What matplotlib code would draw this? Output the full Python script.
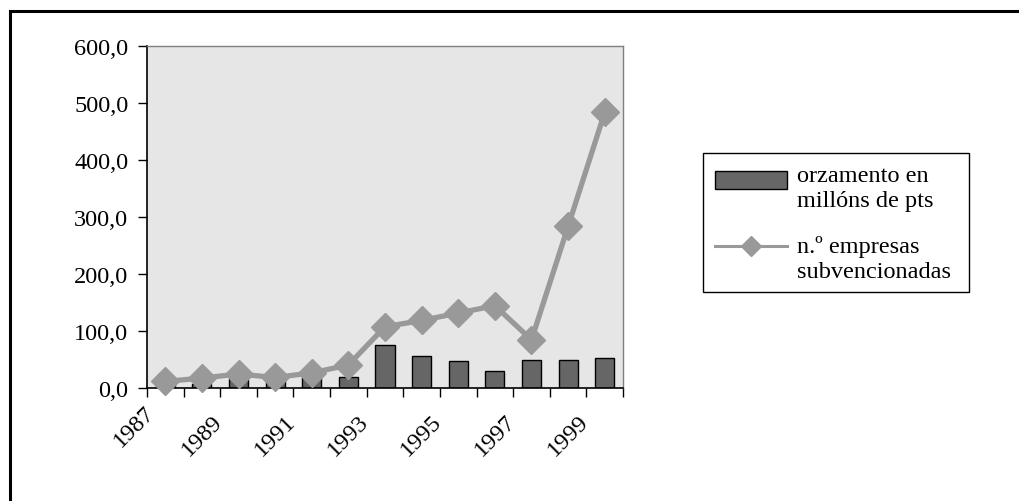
import matplotlib
matplotlib.use('Agg')
import matplotlib.pyplot as plt
import matplotlib.transforms as mtransforms
from matplotlib.lines import Line2D
from matplotlib.patches import Rectangle
import numpy as np

# ---- data ----
years = list(range(1987, 2000))
orzamento = [5, 7, 16, 15, 19, 20, 76, 57, 48, 31, 49, 49, 54]
empresas = [12, 18, 25, 19, 27, 41, 108, 119, 132, 145, 85, 284, 484]
year_labels = [str(y) if (y - 1987) % 2 == 0 else '' for y in years]
yticks = [0, 100, 200, 300, 400, 500, 600]
ytick_labels = ['0,0', '100,0', '200,0', '300,0', '400,0', '500,0', '600,0']
label_bar = 'orzamento en\nmillóns de pts'
label_line = 'n.º empresas\nsubvencionadas'

BAR_COLOR = '#666666'
LINE_COLOR = '#999999'

plt.rcParams['font.family'] = ['Liberation Serif', 'DejaVu Serif']
FS = 17.5

W, H = 1019, 502
fig = plt.figure(figsize=(W / 100, H / 100), dpi=100)
fig.patch.set_facecolor('white')

ax = fig.add_axes([147 / W, 1 - 389.3 / H, (623 - 147) / W, (389.3 - 47.3) / H])
ax.set_facecolor('#e6e6e6')

x = np.arange(len(years))
ax.bar(x, orzamento, width=0.52, color=BAR_COLOR, edgecolor='black',
       linewidth=1, zorder=2)
ax.plot(x, empresas, color=LINE_COLOR, lw=3.8, marker='D', ms=14,
        zorder=3, clip_on=False)

ax.set_xlim(-0.5, len(years) - 0.5)
ax.set_ylim(0, 600)

for s in ['left', 'bottom']:
    ax.spines[s].set_color('black')
    ax.spines[s].set_linewidth(1.2)
for s in ['top', 'right']:
    ax.spines[s].set_color('#808080')
    ax.spines[s].set_linewidth(1.0)

ax.set_yticks(yticks)
ax.set_yticklabels(ytick_labels, fontsize=FS)
ax.tick_params(axis='y', direction='out', length=6.5, width=1, pad=7, color='black')

ax.set_xticks(x)
ax.set_xticklabels(year_labels, fontsize=FS, rotation=45, ha='right',
                   va='top', rotation_mode='anchor')
ax.set_xticks(np.arange(-0.5, len(years), 1.0), minor=True)
ax.tick_params(axis='x', which='major', length=0, pad=16)
ax.tick_params(axis='x', which='minor', direction='out', length=6.5, width=1, color='black')
for i, lab in enumerate(ax.get_xticklabels()):
    dx, dy = (-0.21, 0.09) if i == 0 else (-0.27, 0.0)
    offset = mtransforms.ScaledTranslation(dx, dy, fig.dpi_scale_trans)
    lab.set_transform(lab.get_transform() + offset)

# ---- legend (drawn in figure pixel coordinates) ----
def fx(px):
    return px / W

def fy(py):
    return 1 - py / H

fig.add_artist(Rectangle((fx(703), fy(293)), fx(969) - fx(703), fy(154) - fy(293),
                         transform=fig.transFigure, facecolor='white',
                         edgecolor='black', linewidth=1.0, zorder=5))
fig.add_artist(Rectangle((fx(715), fy(190)), fx(787) - fx(715), fy(172) - fy(190),
                         transform=fig.transFigure, facecolor=BAR_COLOR,
                         edgecolor='black', linewidth=1.0, zorder=6))
fig.add_artist(Line2D([fx(715), fx(787)], [fy(246.7), fy(246.7)],
                      transform=fig.transFigure, color=LINE_COLOR, lw=2.2, zorder=6))
fig.add_artist(Line2D([fx(751)], [fy(246.7)], transform=fig.transFigure,
                      color=LINE_COLOR, marker='D', ms=10, lw=0, zorder=7))
for lbl, baselines in [(label_bar, [181.7, 206.7]), (label_line, [252.5, 278])]:
    for line, b in zip(lbl.split('\n'), baselines):
        fig.text(fx(797), fy(b), line, fontsize=FS, va='baseline', ha='left', zorder=8)

# outer chart frame (only left and top visible)
fig.add_artist(Line2D([9.5 / W, 9.5 / W], [0, 1 - 12 / H], color='black', lw=2.2))
fig.add_artist(Line2D([9.5 / W, 1], [1 - 12 / H, 1 - 12 / H], color='black', lw=2.2))

fig.savefig('out.png', dpi=100)
